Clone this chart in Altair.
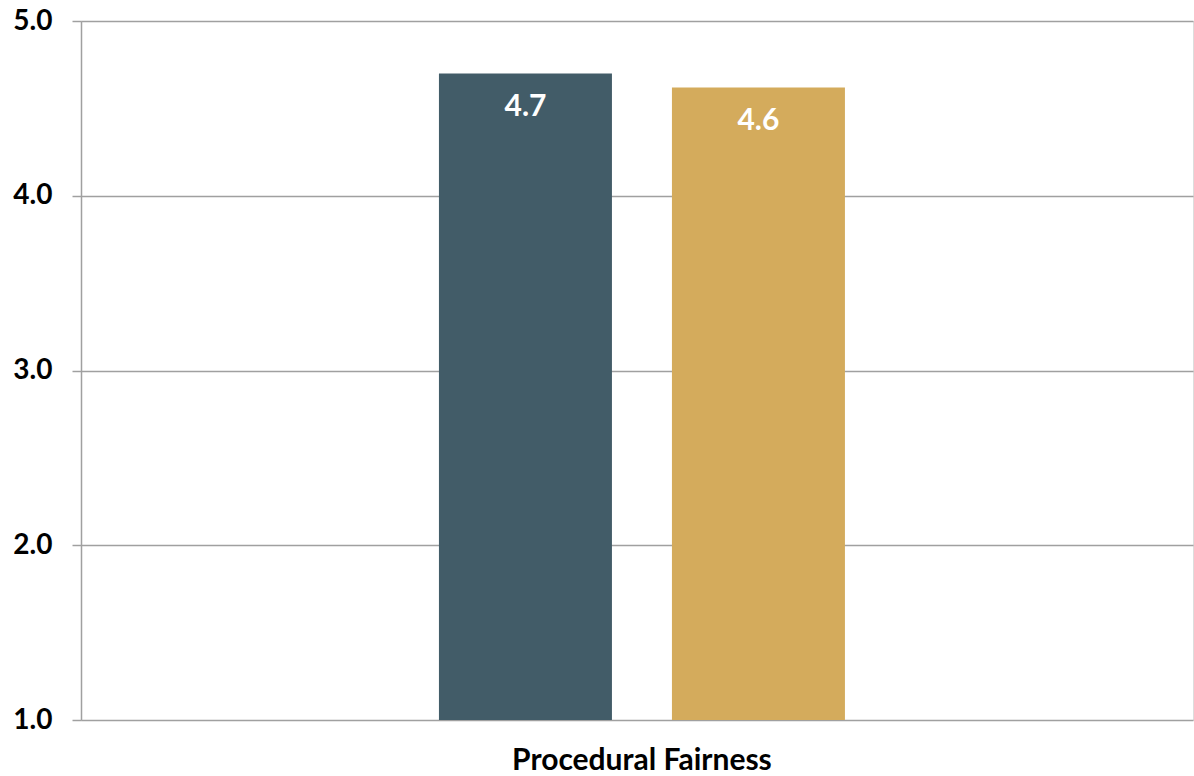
import altair as alt
import pandas as pd

categories = ["Procedural Fairness", "Procedural Fairness"]
series = ["Group A", "Group B"]
values = [4.70, 4.62]
labels = ["4.7", "4.6"]
colors = ["#425C68", "#D4AB5C"]

df = pd.DataFrame({"category": categories, "series": series, "value": values, "label": labels})

FONT = "Lato"
GRID = "#A0A0A0"

x_enc = alt.X("category:N", title=None,
              scale=alt.Scale(paddingInner=0, paddingOuter=0.8695, align=0.507),
              axis=alt.Axis(labelAngle=0, labelFont=FONT, labelFontSize=30, labelFontWeight="bold",
                            labelColor="#000000", ticks=False, labelPadding=25, domain=False,
                            labelLimit=0))
xoff = alt.XOffset("series:N", scale=alt.Scale(paddingInner=0.2575, paddingOuter=0))
y_enc = alt.Y("value:Q", title=None,
              scale=alt.Scale(domain=[1, 5], nice=False, zero=False),
              axis=alt.Axis(values=[1, 2, 3, 4, 5], format=".1f", labelFont=FONT, labelFontSize=28,
                            labelFontWeight="bold", labelColor="#000000", gridColor=GRID,
                            domainColor=GRID, tickColor=GRID, tickSize=9, labelPadding=20,
                            domainWidth=1.5, gridWidth=1.5, tickWidth=1.5))

bars = alt.Chart(df).mark_bar().encode(
    x=x_enc, xOffset=xoff, y=y_enc, y2=alt.datum(1),
    color=alt.Color("series:N", scale=alt.Scale(domain=series, range=colors), legend=None),
)

text = alt.Chart(df).mark_text(font=FONT, fontSize=30, fontWeight="bold", color="white",
                               baseline="middle", dy=34).encode(
    x=alt.X("category:N"), xOffset=alt.XOffset("series:N"), y=alt.Y("value:Q"), text="label:N"
)

chart = alt.layer(bars, text).properties(
    width=1112, height=699,
    padding={"left": 81, "top": 21, "right": 1, "bottom": 56},
    autosize=alt.AutoSizeParams(type="none"),
).configure_view(stroke=None).configure(background="white")

chart.save("out.html", embed_options={"renderer": "svg", "actions": False})
